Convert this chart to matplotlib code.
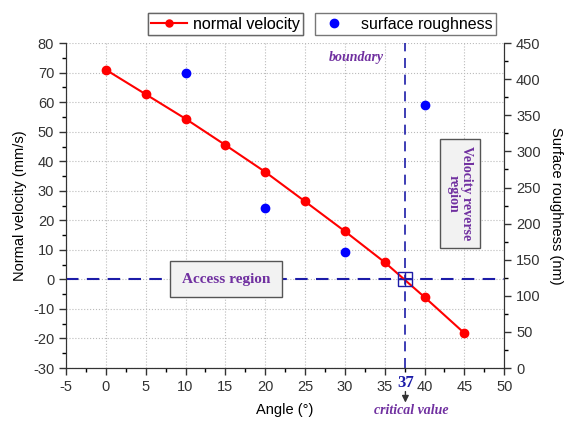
import matplotlib.pyplot as plt
from matplotlib.ticker import MultipleLocator
from matplotlib.lines import Line2D

plt.rcParams['font.family'] = ['Liberation Sans', 'DejaVu Sans']
plt.rcParams['axes.unicode_minus'] = False

# data
angle = [0, 5, 10, 15, 20, 25, 30, 35, 40, 45]
velocity = [71.0, 62.7, 54.4, 45.5, 36.4, 26.4, 16.3, 5.8, -6.0, -18.2]
rough_angle = [10, 20, 30, 40]
roughness = [409, 221, 161, 365]
critical = 37.6

purple = '#7030a0'
navy = '#1c1ca8'
serif = ['Liberation Serif', 'DejaVu Serif']

fig = plt.figure(figsize=(5.64, 4.23), dpi=100)
ax = fig.add_axes([0.117, 0.130, 0.777, 0.768])
ax2 = ax.twinx()

ax.plot(angle, velocity, color='red', marker='o', markersize=6, lw=1.5, zorder=3)
ax2.plot(rough_angle, roughness, 'o', color='blue', markersize=6, zorder=3)

ax.axhline(0, color=navy, lw=1.5, ls=(0, (6, 4)), zorder=2)
ax.axvline(critical, color=navy, lw=1.2, ls=(0, (6, 4)), zorder=2)
ax.plot([critical], [0], marker='s', markersize=10, mfc='none', mec=navy, mew=1.0, zorder=4)
ax.plot([critical], [0], marker='+', markersize=10, color=navy, mew=1.0, zorder=4)

ax.set_xlim(-5, 50)
ax.set_ylim(-30, 80)
ax2.set_ylim(0, 450)
ax.xaxis.set_major_locator(MultipleLocator(5))
ax.xaxis.set_minor_locator(MultipleLocator(2.5))
ax.yaxis.set_major_locator(MultipleLocator(10))
ax.yaxis.set_minor_locator(MultipleLocator(5))
ax2.yaxis.set_major_locator(MultipleLocator(50))
ax2.yaxis.set_minor_locator(MultipleLocator(25))

for a in (ax, ax2):
    a.spines['top'].set_visible(False)
    a.tick_params(direction='out', labelsize=10.5, length=5, width=1, colors='#333333')
    a.tick_params(which='minor', direction='out', length=3, width=1)
    for s in a.spines.values():
        s.set_color('#333333')

ax.grid(True, which='major', ls=':', color='#bbbbbb', lw=0.8)
ax.set_axisbelow(True)

ax.set_xlabel('Angle (°)', fontsize=10.5)
ax.xaxis.set_label_coords(0.5, -0.108)
ax.set_ylabel('Normal velocity (mm/s)', fontsize=10.5)
ax2.set_ylabel('Surface roughness (nm)', fontsize=10.5, rotation=270, labelpad=16)

ax.text(15.1, 0, 'Access region', fontsize=11, fontweight='bold', family=serif,
        color=purple, ha='center', va='center', zorder=5,
        bbox=dict(boxstyle='square,pad=0.75', fc='#f2f2f2', ec='#555555', lw=1))
ax.text(44.4, 29.1, 'Velocity reverse\nregion', fontsize=10, fontweight='bold', family=serif,
        color=purple, ha='center', va='center', rotation=270, zorder=5, linespacing=1.0,
        bbox=dict(boxstyle='square,pad=0.5', fc='#f2f2f2', ec='#555555', lw=1))
ax.text(31.5, 75, 'boundary', fontsize=10, fontweight='bold', style='italic', family=serif,
        color=purple, ha='center', va='center')

xt = ax.get_xaxis_transform()
ax.text(critical, -0.046, '37', transform=xt, fontsize=12,
        fontweight='bold', family=serif, color=navy, ha='center', va='center')
ax.annotate('', xy=(critical, -0.115), xytext=(critical, -0.064),
            xycoords=xt, textcoords=xt,
            arrowprops=dict(arrowstyle='-|>', color='#333333', lw=1), annotation_clip=False)
ax.text(38.3, -0.13, 'critical value', transform=xt, fontsize=10,
        fontweight='bold', style='italic', family=serif, color=purple, ha='center', va='center')

h1 = Line2D([], [], color='red', marker='o', markersize=5, lw=1.5)
h2 = Line2D([], [], color='blue', marker='o', markersize=6, lw=0)
leg1 = fig.legend([h1], ['normal velocity'], loc='center', bbox_to_anchor=(0.400, 0.943),
                  fontsize=11.5, fancybox=False, edgecolor='#555555', borderpad=0.2,
                  handlelength=2.2, handletextpad=0.4, borderaxespad=0)
leg2 = fig.legend([h2], ['surface roughness'], loc='center', bbox_to_anchor=(0.719, 0.943),
                  fontsize=11.5, fancybox=False, edgecolor='#555555', borderpad=0.2,
                  handlelength=2.0, handletextpad=0.7, borderaxespad=0)
fig.add_artist(leg1)

fig.savefig('out.png', dpi=100)
